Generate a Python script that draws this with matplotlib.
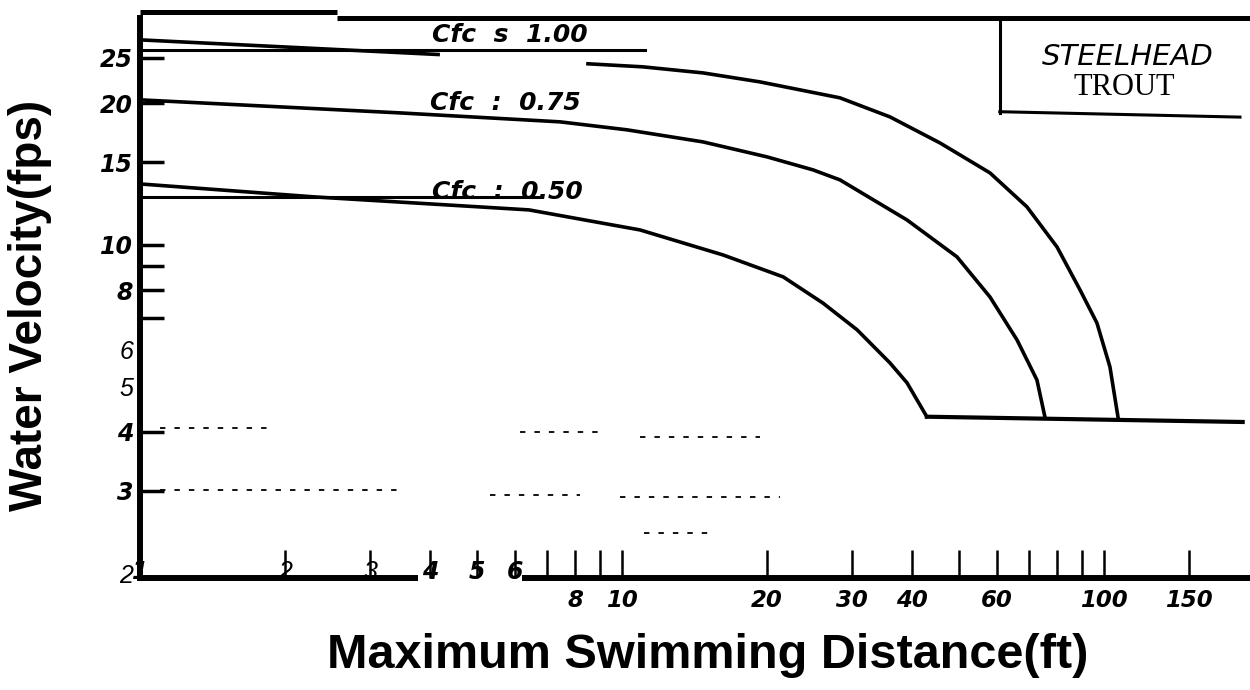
import matplotlib
matplotlib.use("Agg")
import matplotlib.pyplot as plt
from matplotlib.ticker import NullLocator
from matplotlib.transforms import blended_transform_factory

# ---------------- data ----------------
# Cfc = 1.00 : short upper-left piece, then the main curve
cfc100_left_d = [1.0, 4.19]
cfc100_left_v = [27.3, 25.4]
cfc100_d = [8.50, 11.05, 14.73, 19.33, 23.40, 28.33, 35.97, 45.67, 58.0, 69.2,
            79.9, 89.2, 96.7, 102.9, 106.9]
cfc100_v = [24.28, 23.92, 23.22, 22.22, 21.37, 20.55, 18.72, 16.48, 14.23, 12.05,
            9.90, 8.02, 6.82, 5.50, 4.31]

cfc075_d = [1.0, 3.46, 7.44, 10.24, 14.73, 19.99, 24.91, 28.33, 39.02, 49.55,
            58.0, 66.0, 72.6, 75.4]
cfc075_v = [20.35, 19.09, 18.27, 17.57, 16.56, 15.39, 14.44, 13.75, 11.30, 9.43,
            7.75, 6.28, 5.16, 4.31]

cfc050_d = [1.0, 2.30, 6.41, 10.90, 16.20, 21.6, 26.12, 30.73, 35.97, 39.02, 42.9]
cfc050_v = [13.48, 12.65, 11.87, 10.76, 9.52, 8.55, 7.52, 6.60, 5.61, 5.09, 4.31]

base_d = [42.9, 194.0]
base_v = [4.31, 4.20]

# horizontal rule lines through the labels
rule100_d = [1.0, 11.16]
rule100_v = [26.0, 26.0]
rule050_d = [1.0, 6.76]
rule050_v = [12.65, 12.65]

curve_labels = ["Cfc  s  1.00", "Cfc  :  0.75", "Cfc  :  0.50"]
curve_label_v = [27.98, 20.05, 12.96]
curve_label_d = [4.03, 3.99, 4.03]

# faint broken grid fragments (start, end, level)
frag_d0 = [1.10, 6.14, 10.9, 1.10, 5.32, 9.9, 11.1]
frag_d1 = [1.905, 9.0, 19.3, 3.46, 8.18, 21.3, 15.6]
frag_v = [4.08, 4.0, 3.90, 3.01, 2.94, 2.91, 2.44]

# axis ticks and labels
y_ticks = [2, 3, 4, 5, 6, 7, 8, 9, 10, 15, 20, 25]
y_labels = ["2", "3", "4", "5", "6", "", "8", "", "10", "15", "20", "25"]
y_light = ["2", "5", "6"]

x_ticks = [2, 3, 4, 5, 6, 7, 8, 9, 10, 20, 30, 40, 50, 60, 70, 80, 90, 100, 150]
x_labels_below = {8: "8", 10: "10", 20: "20", 30: "30", 40: "40",
                  60: "60", 100: "100", 150: "150"}
x_labels_above = [1, 2, 3, 4, 5, 6]
x_light = [2, 3]

# ---------------- figure ----------------
fig = plt.figure(figsize=(12.5, 6.9), dpi=100)
ax = fig.add_axes([140 / 1250, (690 - 578) / 690, (1250 - 140) / 1250, (578 - 10) / 690])
ax.set_xscale("log")
ax.set_yscale("log")
ax.set_xlim(1.0, 200.9)
ax.set_ylim(1.956, 31.6)

LW = 2.6
ax.plot(cfc100_left_d, cfc100_left_v, color="k", lw=LW, solid_capstyle="butt")
ax.plot(cfc100_d, cfc100_v, color="k", lw=LW, solid_joinstyle="round")
ax.plot(cfc075_d, cfc075_v, color="k", lw=LW, solid_joinstyle="round")
ax.plot(cfc050_d, cfc050_v, color="k", lw=LW, solid_joinstyle="round")
ax.plot(base_d, base_v, color="k", lw=3.0)
ax.plot(rule100_d, rule100_v, color="k", lw=2.2)
ax.plot(rule050_d, rule050_v, color="k", lw=2.2)

for d0, d1, v in zip(frag_d0, frag_d1, frag_v):
    ax.plot([d0, d1], [v, v], color="k", lw=1.3, ls=(0, (3, 5)))

heavy = dict(family="DejaVu Sans", weight="bold", style="italic")
light = dict(family=["Liberation Sans Narrow", "Liberation Sans"], style="italic", weight="normal")

for txt, d, v in zip(curve_labels, curve_label_d, curve_label_v):
    ax.text(d, v, txt, ha="left", va="center", fontsize=18, **heavy)

# species box
ax.plot([60.8, 60.8], [30.4, 19.1], color="k", lw=2.2, clip_on=False)
ax.plot([60.8, 191.5], [19.2, 18.7], color="k", lw=2.2, clip_on=False)
ax.text(112.2, 25.1, "STEELHEAD", ha="center", va="center", fontsize=21,
        family="DejaVu Sans", style="italic")
ax.text(110.0, 21.6, "TROUT", ha="center", va="center", fontsize=22,
        family="Liberation Serif")

# frame lines
for s in ["top", "right", "bottom"]:
    ax.spines[s].set_visible(False)
ax.spines["left"].set_linewidth(4.3)
ax.spines["left"].set_bounds(1.956, 30.4)
ax.plot([1.0, 2.56], [31.3, 31.3], color="k", lw=3.6, clip_on=False, solid_capstyle="butt")
ax.plot([2.56, 210], [30.4, 30.4], color="k", lw=3.6, clip_on=False, solid_capstyle="butt")
trans = blended_transform_factory(ax.transData, ax.transAxes)
ax.plot([1.0, 3.77], [0, 0], transform=trans, color="k", lw=4.3, clip_on=False, solid_capstyle="butt")
ax.plot([6.2, 210], [0, 0], transform=trans, color="k", lw=4.3, clip_on=False, solid_capstyle="butt")

# ticks
ax.xaxis.set_minor_locator(NullLocator())
ax.yaxis.set_minor_locator(NullLocator())
ax.set_yticks(y_ticks)
ax.set_yticklabels(y_labels)
ax.set_xticks(x_ticks)
ax.set_xticklabels([x_labels_below.get(t, "") for t in x_ticks])
ax.tick_params(axis="y", direction="in", length=17, width=2.5, pad=5)
ax.tick_params(axis="x", direction="in", length=20, width=1.8, pad=8)

for tick, val in zip(ax.yaxis.get_major_ticks(), y_ticks):
    if str(val) in y_light:
        tick.tick1line.set_visible(False)
for lab in ax.get_yticklabels():
    if lab.get_text() in y_light:
        lab.set_fontfamily(light["family"])
        lab.set_fontstyle("italic")
        lab.set_fontsize(18)
    else:
        lab.set_fontfamily("DejaVu Sans")
        lab.set_fontweight("bold")
        lab.set_fontstyle("italic")
        lab.set_fontsize(17)
for lab in ax.get_xticklabels():
    lab.set_fontfamily("DejaVu Sans")
    lab.set_fontweight("bold")
    lab.set_fontstyle("italic")
    lab.set_fontsize(16.5)

for d in x_labels_above:
    if d in x_light:
        ax.text(d, 0.01, str(d), transform=trans, ha="center", va="center",
                fontsize=18, clip_on=False, **light)
    else:
        ax.text(d, 0.01, str(d), transform=trans, ha="center", va="center",
                fontsize=17, clip_on=False, **heavy)

fig.text(708 / 1250, 1 - 655 / 690, "Maximum Swimming Distance(ft)", ha="center",
         va="center", fontsize=35, weight="bold", family="Liberation Sans")
fig.text(30 / 1250, 1 - 305 / 690, "Water Velocity(fps)", ha="center", va="center",
         rotation=90, fontsize=33, weight="bold", family="Liberation Sans")

fig.savefig("out.png", dpi=100, facecolor="white")
